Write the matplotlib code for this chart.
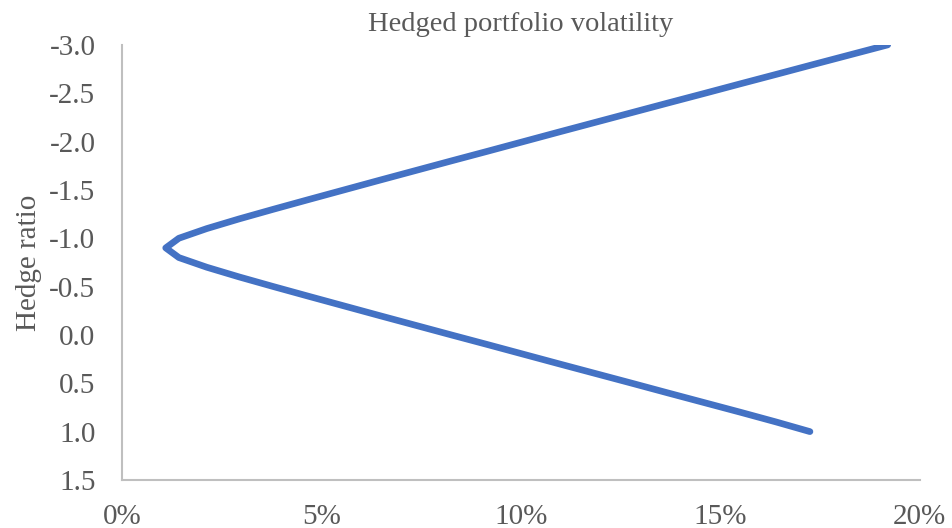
import matplotlib
matplotlib.use("Agg")
from matplotlib import pyplot as plt
from matplotlib.ticker import FuncFormatter

# hedge ratio and resulting volatility (%)
hedge_ratio = [-3.0, -2.9, -2.8, -2.7, -2.6, -2.5, -2.4, -2.3, -2.2, -2.1,
               -2.0, -1.9, -1.8, -1.7, -1.6, -1.5, -1.4, -1.3, -1.2, -1.1,
               -1.0, -0.9, -0.8, -0.7, -0.6, -0.5, -0.4, -0.3, -0.2, -0.1,
               0.0, 0.1, 0.2, 0.3, 0.4, 0.5, 0.6, 0.7, 0.8, 0.9, 1.0]
volatility = [19.20, 18.28, 17.36, 16.45, 15.53, 14.62, 13.70, 12.79, 11.88, 10.97,
              10.07, 9.17, 8.26, 7.36, 6.46, 5.57, 4.68, 3.80, 2.94, 2.13,
              1.43, 1.10, 1.43, 2.13, 2.94, 3.80, 4.68, 5.57, 6.46, 7.36,
              8.26, 9.17, 10.07, 10.97, 11.88, 12.79, 13.69, 14.60, 15.51, 16.40, 17.25]
x_ticks = [0, 5, 10, 15, 20]
y_ticks = [-3.0, -2.5, -2.0, -1.5, -1.0, -0.5, 0.0, 0.5, 1.0, 1.5]

plt.rcParams['font.family'] = ['Liberation Serif', 'DejaVu Serif']
txt = '#595959'

fig = plt.figure(figsize=(9.52, 5.28), dpi=100)
ax = fig.add_axes([0.128, 0.091, 0.838, 0.824])

ax.plot(volatility, hedge_ratio, color='#4472C4', linewidth=4.8,
        solid_capstyle='round', solid_joinstyle='round')

ax.set_xlim(0, 20)
ax.set_ylim(1.5, -3.0)
ax.set_xticks(x_ticks)
ax.set_yticks(y_ticks)
ax.xaxis.set_major_formatter(FuncFormatter(lambda v, p: "{:d}%".format(int(v))))
ax.yaxis.set_major_formatter(FuncFormatter(lambda v, p: "{:.1f}".format(v)))
ax.tick_params(length=0, labelsize=21, colors=txt)
ax.tick_params(axis='x', pad=17)
ax.tick_params(axis='y', pad=19)

for s in ['top', 'right']:
  ax.spines[s].set_visible(False)
for s in ['left', 'bottom']:
  ax.spines[s].set_color('#BFBFBF')
  ax.spines[s].set_linewidth(1.5)

ax.set_title("Hedged portfolio volatility", fontsize=20.5, color=txt, pad=10)
ax.set_ylabel("Hedge ratio", fontsize=21, color=txt, labelpad=5)

fig.savefig("out.png", dpi=100)
